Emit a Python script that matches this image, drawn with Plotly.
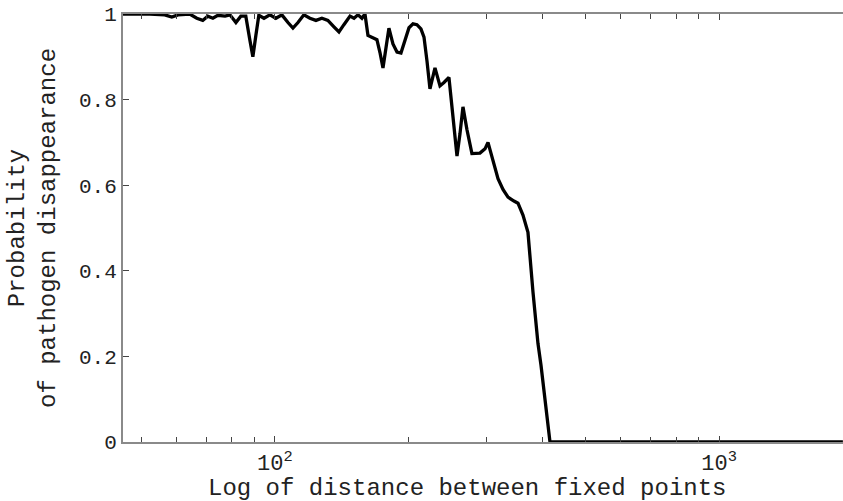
import plotly.graph_objects as go

# distance between fixed points
distance = [45.5, 52.3, 56.5, 58.6, 60.5, 64.3, 66.7, 68.8, 70.6, 72.5, 74.4, 77.2, 79.2,
            81.7, 83.8, 86.0, 87.8, 89.2, 90.6, 92.0, 94.5, 97.4, 100.5, 103.7, 107.0,
            109.8, 112.7, 116.2, 119.9, 123.7, 127.6, 131.6, 135.8, 139.4, 143.0, 147.6,
            150.7, 153.8, 157.0, 159.5, 162.0, 165.4, 169.7, 172.4, 175.1, 177.8, 180.6,
            184.4, 188.3, 192.2, 196.2, 200.4, 204.6, 208.8, 213.2, 216.6, 220.0, 223.4,
            229.3, 235.3, 240.2, 246.5, 251.7, 257.0, 261.0, 265.1, 270.6, 277.7, 289.5,
            297.2, 301.8, 309.7, 317.9, 326.2, 334.8, 345.3, 352.6, 361.8, 371.3, 381.1,
            391.1, 397.2, 405.6, 416.2, 539.5, 906.0, 1900.0]
# probability of pathogen disappearance
probability = [1.0, 1.0, 0.998, 0.993, 0.998, 1.0, 0.99, 0.985, 0.995, 0.99, 0.997, 0.995, 0.998,
               0.98, 0.995, 0.995, 0.94, 0.90, 0.95, 0.997, 0.99, 0.998, 0.99, 0.998, 0.98,
               0.967, 0.98, 0.998, 0.99, 0.985, 0.99, 0.985, 0.97, 0.958, 0.975, 0.995,
               0.99, 0.998, 0.99, 1.0, 0.95, 0.945, 0.94, 0.91, 0.874, 0.92, 0.967,
               0.93, 0.911, 0.909, 0.94, 0.968, 0.977, 0.975, 0.965, 0.946, 0.89, 0.825,
               0.874, 0.832, 0.84, 0.852, 0.76, 0.668, 0.72, 0.783, 0.73, 0.674, 0.675,
               0.685, 0.70, 0.66, 0.615, 0.59, 0.572, 0.563, 0.558, 0.53, 0.49, 0.35,
               0.23, 0.18, 0.1, 0.0, 0.0, 0.0, 0.0]

x_tickvals = [100, 1000]
x_ticktext = ["10<sup>2</sup>", "10<sup>3</sup>"]
x_minorvals = [50, 60, 70, 80, 90, 200, 300, 400, 500, 600, 700, 800, 900]
y_tickvals = [0, 0.2, 0.4, 0.6, 0.8, 1]
y_ticktext = ["0", "0.2", "0.4", "0.6", "0.8", "1"]

FONT = "Liberation Mono, Courier New, monospace"
AXC = "#8a8a8a"
TXT = "#222222"

fig = go.Figure()
fig.add_trace(go.Scatter(x=distance, y=probability, mode="lines",
                         line=dict(color="black", width=3.3), cliponaxis=False,
                         showlegend=False))

fig.update_layout(
    width=843, height=501,
    margin=dict(l=123, r=0, t=14, b=59),
    paper_bgcolor="white", plot_bgcolor="white",
    font=dict(family=FONT, color=TXT),
    xaxis=dict(type="log", range=[1.658, 3.279], tickvals=x_tickvals, ticktext=x_ticktext,
               ticks="inside", ticklen=6, tickcolor="#444", showline=True, linecolor=AXC,
               linewidth=2, mirror="ticks", showgrid=False, zeroline=False,
               minor=dict(tickvals=x_minorvals, ticks="inside", ticklen=5, tickcolor="#444",
                          showgrid=False),
               tickfont=dict(size=22, family=FONT, color=TXT)),
    yaxis=dict(range=[0, 1], tickvals=y_tickvals, ticktext=y_ticktext,
               ticks="inside", ticklen=6, tickcolor="#444", showline=True, linecolor=AXC,
               linewidth=2, showgrid=False, zeroline=False,
               tickfont=dict(size=21, family=FONT, color=TXT)),
    annotations=[
        dict(text="Log of distance between fixed points", xref="paper", yref="paper",
             x=(467 - 123) / 720, y=(442 - 488) / 428, xanchor="center", yanchor="middle",
             showarrow=False, font=dict(size=24, family=FONT, color=TXT)),
        dict(text="Probability<br>of pathogen disappearance", xref="paper", yref="paper",
             x=(33 - 123) / 720, y=0.5, xanchor="center", yanchor="middle",
             textangle=-90, showarrow=False, font=dict(size=24, family=FONT, color=TXT)),
    ],
)

fig.write_html("out.html")
